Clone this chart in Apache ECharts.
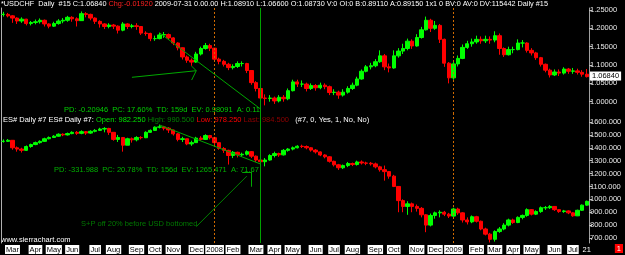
<!DOCTYPE html>
<html><head><meta charset="utf-8">
<script src="https://cdn.jsdelivr.net/npm/echarts@6/dist/echarts.min.js"></script>
<style>html,body{margin:0;padding:0;background:#000}#c{width:625px;height:255px}</style>
</head><body><div id="c"></div><script>
// Weekly values (close / high / low)
const usdchfClose = [1.238,1.234,1.228,1.220,1.225,1.213,1.216,1.218,1.222,1.212,1.206,1.213,1.220,1.222,1.230,1.226,1.221,1.240,1.238,1.228,
1.219,1.212,1.205,1.209,1.206,1.195,1.212,1.205,1.207,1.205,1.187,1.186,1.172,1.172,1.182,1.183,1.174,1.160,1.147,1.122,
1.113,1.108,1.130,1.145,1.153,1.146,1.116,1.110,1.102,1.093,1.096,1.104,1.104,1.085,1.052,1.036,1.010,1.009,1.010,1.002,
1.012,1.008,1.030,1.054,1.048,1.048,1.036,1.044,1.038,1.045,1.041,1.025,1.026,1.018,1.026,1.036,1.045,1.062,1.083,1.095,
1.098,1.109,1.125,1.095,1.092,1.125,1.138,1.145,1.165,1.152,1.175,1.196,1.222,1.200,1.208,1.170,1.105,1.065,1.103,1.118,
1.148,1.158,1.163,1.170,1.166,1.170,1.168,1.180,1.145,1.128,1.142,1.142,1.160,1.160,1.140,1.133,1.120,1.102,1.086,1.073,
1.081,1.078,1.089,1.083,1.084,1.080,1.075,1.0684];
const usdchfHigh = [1.245,1.242,1.236,1.230,1.230,1.226,1.220,1.224,1.227,1.224,1.214,1.218,1.225,1.228,1.234,1.233,1.230,1.246,1.244,1.240,
1.230,1.222,1.214,1.214,1.212,1.208,1.217,1.214,1.212,1.214,1.206,1.192,1.188,1.180,1.188,1.190,1.186,1.176,1.162,1.148,
1.126,1.118,1.136,1.150,1.160,1.158,1.146,1.120,1.114,1.106,1.102,1.110,1.110,1.106,1.086,1.056,1.038,1.020,1.018,1.014,
1.018,1.018,1.036,1.060,1.060,1.058,1.052,1.050,1.048,1.052,1.050,1.044,1.034,1.030,1.034,1.042,1.052,1.068,1.088,1.100,
1.106,1.116,1.140,1.130,1.104,1.140,1.146,1.158,1.172,1.170,1.184,1.204,1.232,1.226,1.220,1.212,1.172,1.108,1.110,1.126,
1.156,1.166,1.172,1.180,1.178,1.180,1.178,1.192,1.186,1.148,1.150,1.150,1.170,1.168,1.162,1.146,1.136,1.122,1.104,1.090,
1.088,1.088,1.094,1.092,1.092,1.090,1.086,1.0891];
const usdchfLow = [1.232,1.230,1.215,1.212,1.215,1.208,1.208,1.211,1.213,1.205,1.200,1.204,1.210,1.214,1.218,1.218,1.205,1.222,1.230,1.222,
1.212,1.202,1.198,1.200,1.198,1.186,1.192,1.198,1.200,1.196,1.182,1.180,1.165,1.166,1.170,1.174,1.168,1.154,1.140,1.115,
1.106,1.098,1.106,1.126,1.142,1.138,1.110,1.102,1.096,1.086,1.088,1.092,1.096,1.078,1.046,1.028,0.980,0.990,1.000,0.994,
0.998,1.000,1.004,1.028,1.040,1.040,1.028,1.032,1.030,1.034,1.034,1.018,1.018,1.008,1.014,1.022,1.032,1.042,1.060,1.080,
1.088,1.094,1.106,1.086,1.080,1.090,1.120,1.130,1.140,1.144,1.150,1.172,1.194,1.190,1.196,1.160,1.095,1.050,1.060,1.096,
1.116,1.144,1.150,1.158,1.158,1.160,1.158,1.162,1.128,1.122,1.126,1.132,1.140,1.148,1.134,1.126,1.114,1.096,1.080,1.066,
1.070,1.070,1.074,1.076,1.076,1.074,1.068,1.066];
const esClose = [1450,1458,1400,1390,1380,1410,1425,1440,1450,1470,1480,1490,1505,1500,1510,1520,1512,1525,1514,1528,
1535,1545,1550,1520,1465,1480,1420,1470,1462,1480,1478,1520,1535,1560,1562,1552,1538,1508,1465,1470,
1430,1440,1475,1465,1495,1478,1440,1395,1380,1340,1365,1345,1350,1370,1335,1305,1292,1305,1340,1355,
1345,1380,1390,1400,1412,1410,1400,1382,1368,1344,1330,1295,1268,1245,1262,1278,1270,1290,1282,1280,
1275,1252,1230,1215,1180,1100,990,945,965,945,930,880,800,875,895,900,885,870,925,895,
840,825,865,830,770,730,690,750,770,800,840,820,860,875,920,885,905,935,935,945,
920,905,910,895,872,915,955,984.5];
const esHigh = [1465,1468,1460,1410,1400,1418,1432,1448,1458,1478,1488,1498,1512,1512,1518,1528,1530,1535,1530,1536,
1545,1555,1560,1555,1520,1500,1480,1478,1480,1490,1490,1528,1542,1566,1580,1570,1560,1540,1515,1485,
1470,1455,1485,1490,1505,1500,1485,1440,1405,1385,1375,1370,1362,1380,1375,1340,1315,1320,1350,1370,
1362,1390,1398,1410,1420,1424,1418,1405,1390,1372,1350,1335,1300,1275,1270,1290,1285,1300,1302,1292,
1290,1285,1260,1262,1220,1190,1100,1000,985,975,960,940,885,890,905,915,910,895,935,935,
900,860,875,872,835,780,740,760,785,815,850,850,868,882,930,925,915,945,948,955,
948,925,918,915,900,920,960,990.5];
const esLow = [1440,1445,1385,1370,1363,1375,1400,1420,1432,1445,1465,1476,1486,1490,1495,1505,1500,1505,1500,1508,
1520,1530,1520,1500,1455,1445,1370,1420,1440,1450,1465,1475,1515,1530,1550,1535,1515,1495,1450,1445,
1420,1415,1440,1455,1460,1465,1410,1385,1360,1270,1320,1325,1330,1340,1320,1290,1265,1256,1300,1325,
1330,1340,1370,1380,1395,1398,1388,1370,1355,1335,1318,1285,1255,1228,1235,1250,1258,1262,1270,1265,
1262,1240,1215,1145,1160,1095,900,900,880,900,905,860,745,790,850,860,870,855,865,880,
820,805,815,820,760,720,665,672,740,760,790,810,815,845,865,875,878,895,918,925,
910,895,895,885,865,870,910,950];
const usdchfTicks = [1.00,1.05,1.10,1.15,1.20,1.25];
const esTicks = [700,800,900,1000,1100,1200,1300,1400,1500,1600];
const monthNames = ['Jan','Feb','Mar','Apr','May','Jun','Jul','Aug','Sep','Oct','Nov','Dec'];
const extraLabels = {'2009-07-24':'21'};
const lastUsdchf = '1.06840';
// weekly categories (week-ending Fridays)
const categories = [];
for (let i = 0; i < usdchfClose.length; i++) {
  const d = new Date(Date.UTC(2007,1,16) + i*7*86400000);
  categories.push(d.toISOString().slice(0,10));
}
function labelFor(i){
  const c = categories[i];
  if (extraLabels[c]) return {t:extraLabels[c], plain:true};
  if (i === 0) return null;
  const m = +c.slice(5,7), pm = +categories[i-1].slice(5,7);
  if (m === pm) return null;
  return {t: m === 1 ? c.slice(0,4) : monthNames[m-1], plain:false};
}
const yearStarts = categories.filter((c,i)=>{const l=labelFor(i);return l && /^\d{4}$/.test(l.t);});
const usdBottomWeek = '2008-03-14';
// annotation lines in data space
const usdTrend = [['2007-10-12',1.188],['2008-03-14',0.980]];
const usdArrow = [['2007-08-31',1.0665],['2007-12-07',1.0845]];
const usdArrowHead = [['2007-11-30',1.097],['2007-11-30',1.059]];
const esTrend = [['2007-10-12',1577],['2008-03-14',1274]];
const esUnderline = [['2008-02-15',1214],['2008-02-29',1214]];
const esTick = [['2008-02-29',1214],['2008-02-29',1098]];
const esPointer = [['2008-02-22',1180],['2007-12-07',788]];

function toCandles(c,h,l){return c.map((v,i)=>{const o=i?c[i-1]:v;return [o,v,Math.min(o,v,l[i]),Math.max(o,v,h[i])];});}
const FONT = 'Liberation Sans';
const FS = 7.5;
const GREEN='#00a800';
function vlines(){
  const arr = yearStarts.map(c=>({xAxis:c, lineStyle:{color:'#d06a00',type:[2,2],width:1}}));
  arr.push({xAxis:usdBottomWeek, lineStyle:{color:'#00a000',type:'solid',width:1}});
  return arr;
}
function seg(p,color){return [{coord:p[0],lineStyle:{color:color||GREEN,width:1,type:'solid'}},{coord:p[1]}];}
const candleStyle = {color:'#00ff00',color0:'#ff0000',borderColor:'#00ff00',borderColor0:'#ff0000',borderWidth:1};

const chart = echarts.init(document.getElementById('c'), null, {renderer:'canvas'});
chart.setOption({
  animation:false,
  backgroundColor:'#000',
  grid:[{left:1,right:36,top:8,height:106},{left:1,right:36,top:114,height:129}],
  xAxis:[
    {type:'category',gridIndex:0,data:categories,boundaryGap:true,axisLine:{show:false},axisTick:{show:false},axisLabel:{show:false},splitLine:{show:false}},
    {type:'category',gridIndex:1,data:categories,boundaryGap:true,axisLine:{show:false},axisTick:{show:false},splitLine:{show:false},
     axisLabel:{interval:(i)=>!!labelFor(i),margin:2,formatter:(v,i)=>{const l=labelFor(i);if(!l)return '';return l.plain?'{p|'+l.t+'}':'{b|'+l.t+'}';},
       rich:{b:{backgroundColor:'#fff',color:'#000',fontSize:FS,fontFamily:FONT,padding:[1,1,0,1]},p:{color:'#fff',fontSize:FS,fontFamily:FONT,padding:[1,1,0,1]}}}}
  ],
  yAxis:[
    {type:'value',gridIndex:0,position:'right',min:0.96647,max:1.25545,splitLine:{show:false},
     axisLine:{show:true,lineStyle:{color:'#a0a0a0'}},axisTick:{show:true,length:3,customValues:usdchfTicks,lineStyle:{color:'#c0c0c0'}},
     axisLabel:{customValues:usdchfTicks,color:'#e8e8e8',fontSize:FS,fontFamily:FONT,margin:1,formatter:v=>v.toFixed(5)}},
    {type:'value',gridIndex:1,position:'right',min:661.2,max:1662.1,splitLine:{show:false},
     axisLine:{show:true,lineStyle:{color:'#a0a0a0'}},axisTick:{show:true,length:3,customValues:esTicks,lineStyle:{color:'#c0c0c0'}},
     axisLabel:{customValues:esTicks,color:'#e8e8e8',fontSize:FS,fontFamily:FONT,margin:1,formatter:v=>v.toFixed(3)}},
    {type:'value',gridIndex:0,position:'left',axisLine:{show:true,lineStyle:{color:'#b0b0b0'}},axisLabel:{show:false},axisTick:{show:false},splitLine:{show:false}},
    {type:'value',gridIndex:1,position:'left',axisLine:{show:true,lineStyle:{color:'#b0b0b0'}},axisLabel:{show:false},axisTick:{show:false},splitLine:{show:false}}
  ],
  series:[
    {type:'candlestick',xAxisIndex:0,yAxisIndex:0,data:toCandles(usdchfClose,usdchfHigh,usdchfLow),barWidth:'85%',itemStyle:candleStyle,
     markLine:{silent:true,symbol:'none',animation:false,label:{show:false},
       data:[...vlines(),seg(usdTrend),seg(usdArrow),seg([usdArrowHead[0],usdArrow[1]]),seg([usdArrowHead[1],usdArrow[1]]),
         {yAxis:1.0684,lineStyle:{color:'rgba(0,0,0,0)',width:1},label:{show:true,position:'end',distance:1,formatter:lastUsdchf,backgroundColor:'#fff',color:'#000',fontSize:FS,fontFamily:FONT,padding:[1,2,0,2]}}]}},
    {type:'candlestick',xAxisIndex:1,yAxisIndex:1,data:toCandles(esClose,esHigh,esLow),barWidth:'85%',itemStyle:candleStyle,
     markLine:{silent:true,symbol:'none',animation:false,label:{show:false},
       data:[...vlines(),seg(esTrend),seg(esUnderline),seg(esTick),seg(esPointer,'#008000')]}}
  ],
  graphic:[
    {type:'text',left:1,top:0,style:{text:'{w|*USDCHF  Daily  #15 C:1.06840 }{r|Chg:-0.01920}{w| 2009-07-31 0.00.00 H:1.08910 L:1.06600 O:1.08730 V:0 OI:0 B:0.89110 A:0.89150 1x1 0 BV:0 AV:0 DV:115442 Daily #15}',
      fontSize:7.3,fontFamily:FONT,rich:{w:{fill:'#ffffff',fontSize:7.3,fontFamily:FONT},r:{fill:'#ff2020',fontSize:7.3,fontFamily:FONT}}}},
    {type:'text',left:64,top:106,style:{text:'PD: -0.20946  PC: 17.60%  TD: 159d  EV: 0.98091  A: 0.11',fill:'#00d000',fontSize:FS,fontFamily:FONT}},
    {type:'text',left:3,top:116,style:{text:'{w|ES# Daily #7 ES# Daily #7: }{g|Open: 982.250 }{dg|High: 990.500 }{r|Low: 978.250 }{dr|Last: 984.500 }{w|  (#7, 0, Yes, 1, No, No)}',
      fontSize:FS,fontFamily:FONT,rich:{w:{fill:'#ffffff',fontSize:FS,fontFamily:FONT},g:{fill:'#00e000',fontSize:FS,fontFamily:FONT},dg:{fill:'#008000',fontSize:FS,fontFamily:FONT},r:{fill:'#ff0000',fontSize:FS,fontFamily:FONT},dr:{fill:'#900000',fontSize:FS,fontFamily:FONT}}}},
    {type:'text',left:54,top:166,style:{text:'PD: -331.988  PC: 20.78%  TD: 156d  EV: 1265.471  A: 71.67',fill:'#00b000',fontSize:FS,fontFamily:FONT}},
    {type:'text',left:81,top:220,style:{text:'S+P off 20% before USD bottomed',fill:'#007800',fontSize:FS,fontFamily:FONT}},
    {type:'text',left:1,top:236,style:{text:'www.sierrachart.com',fill:'#ffffff',fontSize:FS,fontFamily:FONT}},
    {type:'text',right:2,top:244,style:{text:'1',fill:'#ffffff',backgroundColor:'#ff0000',padding:[1,2,0,2],fontSize:FS,fontFamily:FONT}}
  ]
});
</script></body></html>
